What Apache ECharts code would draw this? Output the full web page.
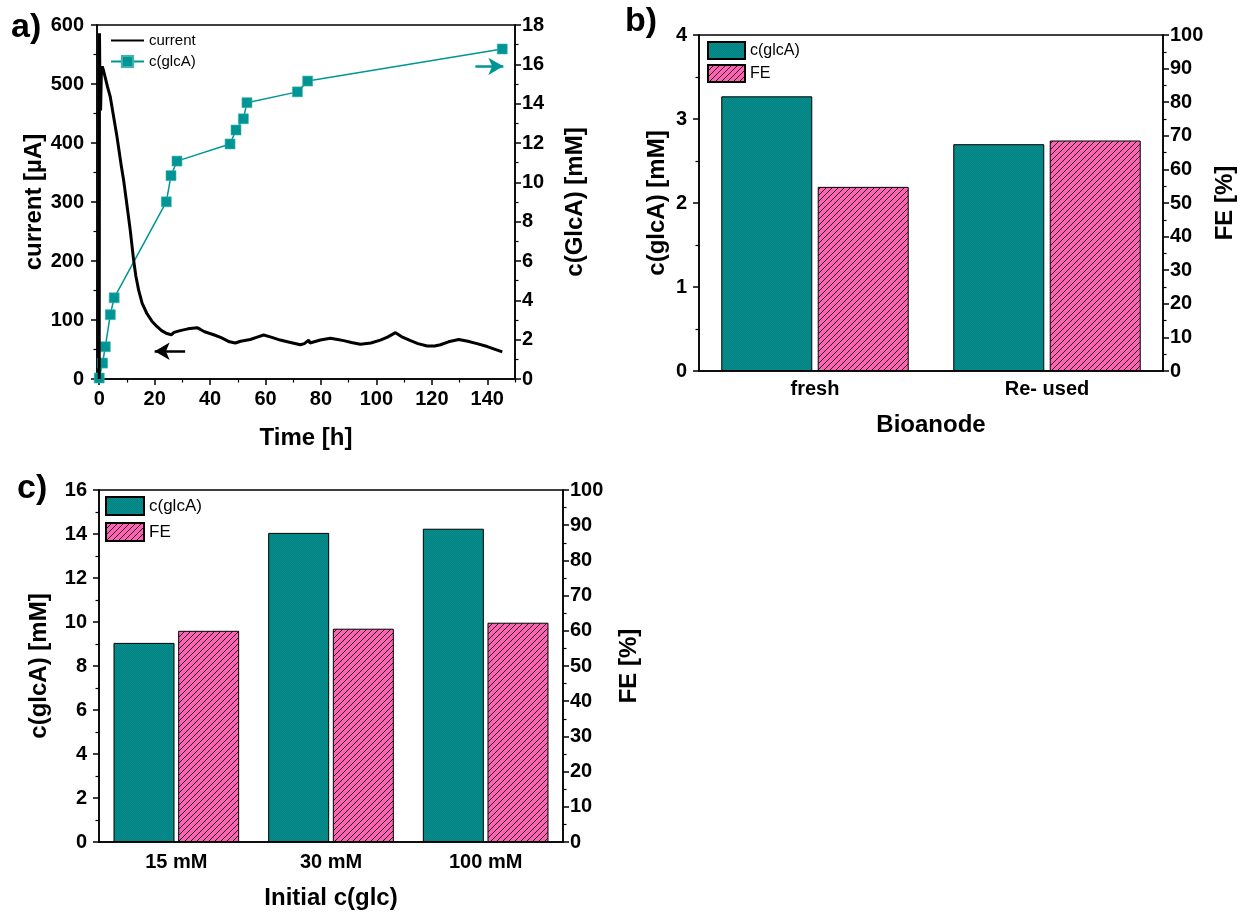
<!DOCTYPE html>
<html><head><meta charset="utf-8">
<script src="https://cdn.jsdelivr.net/npm/echarts@6/dist/echarts.min.js"></script>
<style>html,body{margin:0;padding:0;background:#fff}#c{width:1250px;height:914px}</style>
</head><body><div id="c"></div>
<script>
// ---------- DATA ----------
// Panel a: current vs time
const currentTime  = [0, 0.1, 0.3, 0.5, 0.8, 1.1, 1.6, 3, 4, 5, 6.4, 8, 8.8, 10, 11.2, 12.4, 13.2, 14.2, 15.5, 17.2, 19, 20.8, 22.5, 24.4, 26, 27, 29.2, 32, 35.3, 36.5, 38, 41.3, 44, 47, 49.1, 51, 54.5, 57, 59.3, 62, 65.3, 69, 72.6, 74, 75.6, 76, 79.8, 83.4, 86, 88.2, 91, 94.2, 98, 101.4, 104, 106.9, 109, 112.3, 115, 118.3, 121, 123.1, 126, 129.7, 133, 136.3, 140, 145.4];
const currentValue = [0, 586, 470, 455, 525, 530, 522, 495, 478, 450, 411, 360, 337, 295, 252, 202, 175, 151, 128, 111, 98, 89, 82, 77, 75, 79, 82, 85, 87, 84, 80, 75, 70, 63, 61, 64, 67, 71, 74.6, 71, 66, 62, 58, 60, 66, 61, 66, 69, 67, 65, 62, 59, 61, 66, 71, 78.5, 72, 65, 60, 56, 56, 58, 63, 67, 64, 60, 55, 46];
// Panel a: c(glcA) vs time
const glcaTime  = [0, 1.2, 2.2, 4.0, 5.4, 24.2, 25.9, 28.05, 47.2, 49.35, 52.0, 53.3, 71.5, 75.2, 145.4];
const glcaValue = [0.05, 0.81, 1.64, 3.27, 4.13, 9.01, 10.34, 11.08, 11.95, 12.66, 13.23, 14.05, 14.6, 15.15, 16.78];
// time axis ticks
const timeMajorTicks = [0, 20, 40, 60, 80, 100, 120, 140];
const timeMinorTicks = [10, 30, 50, 70, 90, 110, 130, 150];
// annotation arrows (data coordinates)
const arrowCurrent = [[31, 47], [20, 47]];
const arrowGlca    = [[135.7, 15.9], [145.8, 15.9]];

// Panel b
const bioanodeCats = ['fresh', 'Re- used'];
const bGlca = [3.27, 2.70];
const bFE   = [54.8, 68.6];

// Panel c
const initCats = ['15 mM', '30 mM', '100 mM'];
const cGlca = [9.05, 14.05, 14.24];
const cFE   = [60.0, 60.6, 62.3];

const legendNames = {glcaLine: 'c(glcA)', current: 'current', glcaB: 'c(glcA)', feB: 'FE', glcaC: 'c(glcA)', feC: 'FE'};

// ---------- STYLE HELPERS ----------
const FONT = '"Liberation Sans", Arial, sans-serif';
const TEAL_LINE = '#009595';
const PINK = '#ff62b2';

function hatchPattern() {
  const s = 6, cv = document.createElement('canvas');
  cv.width = s; cv.height = s;
  const g = cv.getContext('2d');
  g.fillStyle = PINK; g.fillRect(0, 0, s, s);
  g.strokeStyle = '#1a1a1a'; g.lineWidth = 1;
  g.beginPath();
  g.moveTo(0, s); g.lineTo(s, 0);
  g.moveTo(-1, 1); g.lineTo(1, -1);
  g.moveTo(s - 1, s + 1); g.lineTo(s + 1, s - 1);
  g.stroke();
  return {image: cv, repeat: 'repeat'};
}
function tealPattern() {
  const cv = document.createElement('canvas');
  cv.width = 2; cv.height = 2;
  const g = cv.getContext('2d');
  g.fillStyle = '#008282'; g.fillRect(0, 0, 2, 2);
  g.fillStyle = '#0a8d8d'; g.fillRect(0, 0, 1, 1); g.fillRect(1, 1, 1, 1);
  return {image: cv, repeat: 'repeat'};
}

const tickLabel = {fontFamily: FONT, fontWeight: 'bold', fontSize: 20, color: '#000'};
const nameStyle = {fontFamily: FONT, fontWeight: 'bold', fontSize: 24, color: '#000'};
const axLine = {show: true, onZero: false, lineStyle: {color: '#000', width: 1.5}};

function valAxis(o, margin) {
  return Object.assign({
    type: 'value',
    axisLine: axLine,
    axisTick: {show: true, length: 6, lineStyle: {color: '#000', width: 1.5}},
    minorTick: {show: true, splitNumber: 2, length: 3.5, lineStyle: {color: '#000', width: 1.2}},
    splitLine: {show: false},
    axisLabel: Object.assign({margin: margin}, tickLabel),
    nameLocation: 'middle',
    nameTextStyle: nameStyle,
    nameRotate: 90
  }, o);
}

const chart = echarts.init(document.getElementById('c'), null, {renderer: 'canvas'});
const hatch = hatchPattern();
const teal = tealPattern();

const option = {
  animation: false,
  backgroundColor: '#fff',
  grid: [
    {left: 97, top: 25, width: 418, height: 354, show: true, borderColor: '#000', borderWidth: 1.5},
    {left: 699, top: 35, width: 464, height: 336, show: true, borderColor: '#000', borderWidth: 1.5},
    {left: 99, top: 490, width: 464, height: 352, show: true, borderColor: '#000', borderWidth: 1.5}
  ],
  xAxis: [
    {gridIndex: 0, type: 'value', min: -0.8, max: 150, position: 'bottom',
      axisLine: axLine,
      axisTick: {show: true, length: 6, customValues: timeMajorTicks, lineStyle: {color: '#000', width: 1.5}},
      axisLabel: Object.assign({margin: 10, customValues: timeMajorTicks}, tickLabel),
      splitLine: {show: false},
      name: 'Time [h]', nameLocation: 'middle', nameGap: 47, nameTextStyle: nameStyle},
    {gridIndex: 1, type: 'category', data: bioanodeCats, axisLine: axLine, axisTick: {show: false},
      axisLabel: Object.assign({margin: 8}, tickLabel), name: 'Bioanode', nameLocation: 'middle', nameGap: 42, nameTextStyle: nameStyle},
    {gridIndex: 2, type: 'category', data: initCats, axisLine: axLine, axisTick: {show: false},
      axisLabel: Object.assign({margin: 10}, tickLabel), name: 'Initial c(glc)', nameLocation: 'middle', nameGap: 44, nameTextStyle: nameStyle},
    {gridIndex: 0, type: 'value', min: -0.8, max: 150, position: 'bottom', offset: 0,
      axisLine: {show: false, onZero: false},
      axisTick: {show: true, length: 3.5, customValues: timeMinorTicks, lineStyle: {color: '#000', width: 1.2}},
      axisLabel: {show: false}, splitLine: {show: false}}
  ],
  yAxis: [
    valAxis({gridIndex: 0, min: 0, max: 600, interval: 100, name: 'current [µA]', nameGap: 50}, 13),
    valAxis({gridIndex: 0, min: 0, max: 18, interval: 2, position: 'right', name: 'c(GlcA) [mM]', nameGap: 48}, 7),
    valAxis({gridIndex: 1, min: 0, max: 4, interval: 1, name: 'c(glcA) [mM]', nameGap: 30}, 12),
    valAxis({gridIndex: 1, min: 0, max: 100, interval: 10, position: 'right', name: 'FE [%]', nameGap: 50}, 7),
    valAxis({gridIndex: 2, min: 0, max: 16, interval: 2, name: 'c(glcA) [mM]', nameGap: 48}, 12),
    valAxis({gridIndex: 2, min: 0, max: 100, interval: 10, position: 'right', name: 'FE [%]', nameGap: 54}, 7)
  ],
  legend: [
    {left: 110, top: 33, padding: 0, orient: 'vertical', itemWidth: 33, itemHeight: 14, itemGap: 6,
      data: [{name: 'current', itemStyle: {opacity: 0}}, 'glcaLine'], formatter: n => legendNames[n],
      textStyle: {fontFamily: FONT, fontSize: 15, color: '#000'}, selectedMode: false},
    {left: 707, top: 41, padding: 0, orient: 'vertical', itemWidth: 37, itemHeight: 17, itemGap: 4, icon: 'rect',
      data: ['glcaB', 'feB'], formatter: n => legendNames[n],
      textStyle: {fontFamily: FONT, fontSize: 16, color: '#000'}, selectedMode: false},
    {left: 105, top: 496, padding: 0, orient: 'vertical', itemWidth: 38, itemHeight: 18, itemGap: 6, icon: 'rect',
      data: ['glcaC', 'feC'], formatter: n => legendNames[n],
      textStyle: {fontFamily: FONT, fontSize: 17, color: '#000'}, selectedMode: false}
  ],
  graphic: [
    {type: 'text', left: 11, top: 11, style: {text: 'a)', font: 'bold 34px ' + FONT, fill: '#000'}},
    {type: 'text', left: 625, top: 5, style: {text: 'b)', font: 'bold 34px ' + FONT, fill: '#000'}},
    {type: 'text', left: 17, top: 472, style: {text: 'c)', font: 'bold 34px ' + FONT, fill: '#000'}}
  ],
  series: [
    {name: 'glcaLine', type: 'line', xAxisIndex: 0, yAxisIndex: 1, z: 2,
      data: glcaTime.map((t, i) => [t, glcaValue[i]]),
      symbol: 'rect', symbolSize: 10, showSymbol: true,
      itemStyle: {color: TEAL_LINE, borderColor: '#3fb3b3', borderWidth: 0.6},
      lineStyle: {color: TEAL_LINE, width: 1.5},
      markLine: {silent: true, symbol: ['none', 'arrow'], symbolSize: [13, 15],
        lineStyle: {color: TEAL_LINE, width: 2.5, type: 'solid'}, label: {show: false},
        data: [[{coord: arrowGlca[0]}, {coord: arrowGlca[1]}]]}
    },
    {name: 'current', type: 'line', xAxisIndex: 0, yAxisIndex: 0, z: 3,
      data: currentTime.map((t, i) => [t, currentValue[i]]),
      symbol: 'none', showSymbol: false,
      itemStyle: {color: '#000'},
      lineStyle: {color: '#000', width: 3},
      markLine: {silent: true, symbol: ['none', 'arrow'], symbolSize: [13, 15],
        lineStyle: {color: '#000', width: 2.5, type: 'solid'}, label: {show: false},
        data: [[{coord: arrowCurrent[0]}, {coord: arrowCurrent[1]}]]}
    },
    {name: 'glcaB', type: 'bar', xAxisIndex: 1, yAxisIndex: 2, data: bGlca, barWidth: 91, barGap: '6%',
      itemStyle: {color: teal, borderColor: '#000', borderWidth: 1}},
    {name: 'feB', type: 'bar', xAxisIndex: 1, yAxisIndex: 3, data: bFE, barWidth: 91, barGap: '6%',
      itemStyle: {color: hatch, borderColor: '#000', borderWidth: 1}},
    {name: 'glcaC', type: 'bar', xAxisIndex: 2, yAxisIndex: 4, data: cGlca, barWidth: 61, barGap: '6%',
      itemStyle: {color: teal, borderColor: '#000', borderWidth: 1}},
    {name: 'feC', type: 'bar', xAxisIndex: 2, yAxisIndex: 5, data: cFE, barWidth: 61, barGap: '6%',
      itemStyle: {color: hatch, borderColor: '#000', borderWidth: 1}}
  ]
};
chart.setOption(option);
</script>
</body></html>
